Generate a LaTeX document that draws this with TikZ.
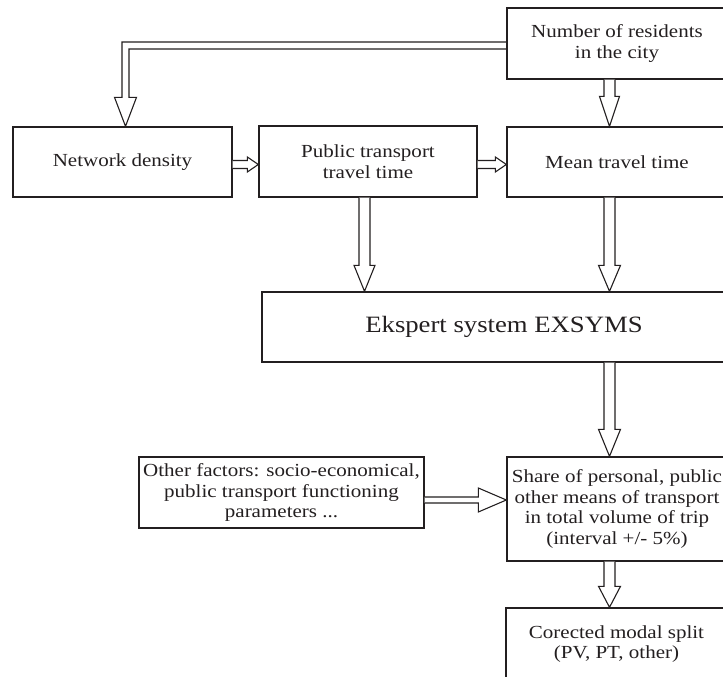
\documentclass[tikz,border=0pt]{standalone}
\usepackage{fontspec}
\setmainfont{Liberation Serif}[FakeStretch=1.14]
\usetikzlibrary{calc}
\definecolor{ink}{HTML}{231F20}
\tikzset{
  box/.style={draw=ink, line width=1.35bp, fill=white, align=center, inner sep=0pt,
    font=\fontsize{18.5}{20.5}\selectfont, text=ink},
  harrow/.style={draw=ink, line width=1.1bp, line join=miter, fill=white},
}
% vertical hollow arrow: #1 x-coordinate name, #2 from node, #3 to node, #4 head length, #5 head half width
\newcommand\hdown[5]{%
  \path (#2.south -| #1) coordinate (s) (#3.north -| #1) coordinate (e);
  \draw[harrow] ($(s)+(-5.5,0)$) -- ($(e)+(-5.5,#4)$) -- ($(e)+(-#5,#4)$) -- (e)
     -- ($(e)+(#5,#4)$) -- ($(e)+(5.5,#4)$) -- ($(s)+(5.5,0)$);
}
% horizontal hollow arrow: #1 y-coordinate name, #2 from, #3 to, #4 shaft half, #5 head half, #6 head length
\newcommand\hright[6]{%
  \path (#2.east |- #1) coordinate (s) (#3.west |- #1) coordinate (e);
  \draw[harrow] ($(s)+(0,#4)$) -- ($(e)+(-#6,#4)$) -- ($(e)+(-#6,#5)$) -- (e)
     -- ($(e)+(-#6,-#5)$) -- ($(e)+(-#6,-#4)$) -- ($(s)+(0,-#4)$);
}
\begin{document}
\begin{tikzpicture}[x=1bp,y=1bp]
\useasboundingbox (0,0) rectangle (723,677);
\clip (0,0) rectangle (723,677);
\fill[white] (0,0) rectangle (723,677);

\node[box, minimum width=220bp, minimum height=71bp] (res) at (617,633.5) {Number of residents\\in the city};
\node[box, minimum width=219bp, minimum height=70bp] (nd) at (122.5,515) {Network density};
\node[box, minimum width=218bp, minimum height=71bp] (pt) at (368,515.5) {Public transport\\travel time};
\node[box, minimum width=220bp, minimum height=70bp] (mtt) at (617,515) {Mean travel time};
\node[box, minimum width=484bp, minimum height=70bp, font=\fontsize{23.5}{26}\selectfont] (ex) at (504,350) {Ekspert system EXSYMS};
\node[box, minimum width=285bp, minimum height=71bp] (oth) at (281.5,184.5) {Other factors: socio-economical,\\public transport functioning\\parameters ...};
\node[box, minimum width=220bp, minimum height=104bp] (sh) at (617,168) {Share of personal, public\\other means of transport\\in total volume of trip\\(interval +/- 5\%)};
\node[box, minimum width=221bp, minimum height=72bp] (cor) at (616.5,33) {Corected modal split\\(PV, PT, other)};

\coordinate (rx) at (609.5,0);
\coordinate (px) at (364.5,0);
\coordinate (bx) at (125.5,0);
\coordinate (y1) at (0,512.5);
\coordinate (y2) at (0,177);

% residents -> network density (bent hollow arrow)
\path (nd.north -| bx) coordinate (t1);
\draw[harrow, fill=none] ($(res.west)+(0,1.5)$) -| ($(t1)+(-3.5,29)$) -- ($(t1)+(-11,29)$) -- (t1)
   -- ($(t1)+(11,29)$) -- ($(t1)+(3.5,29)$) |- ($(res.west)+(0,-5.5)$);

\hdown{rx}{res}{mtt}{30}{10}
\hdown{px}{pt}{ex}{26}{10.5}
\hdown{rx}{mtt}{ex}{26}{11}
\hdown{rx}{ex}{sh}{27}{11}
\hdown{rx}{sh}{cor}{21}{11}

\hright{y1}{nd}{pt}{4}{7.5}{11}
\hright{y1}{pt}{mtt}{4}{7.5}{11}
\hright{y2}{oth}{sh}{3}{12}{28}
\end{tikzpicture}
\end{document}
